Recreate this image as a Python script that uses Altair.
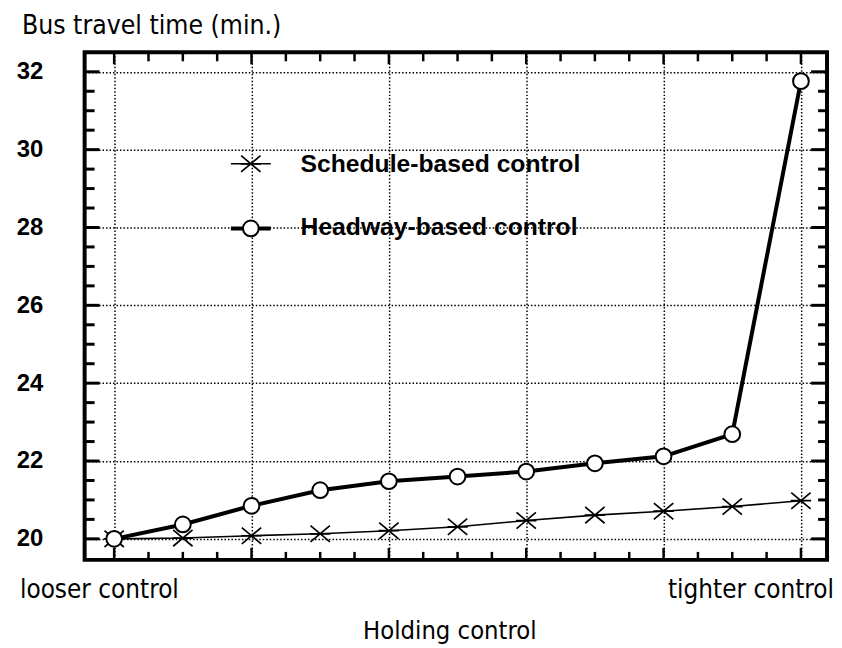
import altair as alt
import pandas as pd

# ---- data ----
control_step = [0, 1, 2, 3, 4, 5, 6, 7, 8, 9, 10]
schedule_based = [20.00, 20.02, 20.08, 20.13, 20.21, 20.31, 20.47, 20.61, 20.71, 20.83, 20.98]
headway_based = [20.00, 20.37, 20.85, 21.25, 21.48, 21.60, 21.73, 21.94, 22.12, 22.69, 31.76]

y_major = [20, 22, 24, 26, 28, 30, 32]
y_minor = [20.5, 21, 21.5, 22.5, 23, 23.5, 24.5, 25, 25.5, 26.5, 27, 27.5,
           28.5, 29, 29.5, 30.5, 31, 31.5]
x_major = [0, 2, 4, 6, 8, 10]
x_minor = [0.5, 1, 1.5, 2.5, 3, 3.5, 4.5, 5, 5.5, 6.5, 7, 7.5, 8.5, 9, 9.5]

series_names = ["Schedule-based control", "Headway-based control"]
y_title = "Bus travel time (min.)"
x_title = "Holding control"
x_left_label = "looser control"
x_right_label = "tighter control"

W, H = 746, 510
NARROW = "Liberation Sans Narrow, Arial Narrow, DejaVu Sans Condensed, sans-serif"
BOLD = "Liberation Sans, Arial, sans-serif"

xs = alt.Scale(domain=[-0.43, 10.38], nice=False, zero=False)
ys = alt.Scale(domain=[19.46, 32.5], nice=False, zero=False)


def X(field):
    return alt.X(f"{field}:Q", scale=xs, title=None,
                 axis=alt.Axis(values=x_major, grid=True, labels=False, ticks=False,
                               domain=False, gridDash=[1.5, 2], gridColor="black",
                               gridWidth=1.5, gridOpacity=1))


def Y(field):
    return alt.Y(f"{field}:Q", scale=ys, title=None,
                 axis=alt.Axis(values=y_major, grid=True, ticks=False, tickSize=0,
                               domain=False, gridDash=[1.5, 2], gridColor="black",
                               gridWidth=1.5, gridOpacity=1, format="d",
                               labelFont=BOLD, labelFontSize=24, labelFontWeight="bold",
                               labelColor="black", labelPadding=42))


df = pd.DataFrame({"step": control_step, "schedule": schedule_based,
                   "headway": headway_based})
base = alt.Chart(df)

star = "M-1,0L1,0M-0.95,-0.8L0.95,0.8M-0.95,0.8L0.95,-0.8"

sched_line = base.mark_line(color="black", strokeWidth=1.6).encode(x=X("step"), y=Y("schedule"))
sched_pts = base.mark_point(shape=star, size=420, color="black", strokeWidth=1.7,
                            filled=False, opacity=1).encode(x=X("step"), y=Y("schedule"))
head_line = base.mark_line(color="black", strokeWidth=4).encode(x=X("step"), y=Y("headway"))
head_pts = base.mark_point(shape="circle", size=250, fill="white", stroke="black",
                           strokeWidth=2, filled=True, opacity=1).encode(
    x=X("step"), y=Y("headway"))

# inward ticks on the frame
dy_maj = pd.DataFrame({"v": y_major})
dy_min = pd.DataFrame({"v": y_minor})
dx_maj = pd.DataFrame({"v": x_major})
dx_min = pd.DataFrame({"v": x_minor})

ticks = [
    alt.Chart(dy_maj).mark_rule(color="black", strokeWidth=3).encode(
        y=Y("v"), x=alt.value(0), x2=alt.value(15)),
    alt.Chart(dy_min).mark_rule(color="black", strokeWidth=3).encode(
        y=Y("v"), x=alt.value(0), x2=alt.value(10)),
    alt.Chart(dy_maj).mark_rule(color="black", strokeWidth=3).encode(
        y=Y("v"), x=alt.value(W - 16), x2=alt.value(W)),
    alt.Chart(dy_min).mark_rule(color="black", strokeWidth=3).encode(
        y=Y("v"), x=alt.value(W - 9), x2=alt.value(W)),
    alt.Chart(dx_maj).mark_rule(color="black", strokeWidth=2.5).encode(
        x=X("v"), y=alt.value(H), y2=alt.value(H - 12)),
    alt.Chart(dx_min).mark_rule(color="black", strokeWidth=2.5).encode(
        x=X("v"), y=alt.value(H), y2=alt.value(H - 8)),
    alt.Chart(dx_maj).mark_rule(color="black", strokeWidth=2.5).encode(
        x=X("v"), y=alt.value(0), y2=alt.value(12)),
    alt.Chart(dx_min).mark_rule(color="black", strokeWidth=2.5).encode(
        x=X("v"), y=alt.value(0), y2=alt.value(9)),
]

# legend inside the plot
leg_s = pd.DataFrame({"label": [series_names[0]]})
leg_h = pd.DataFrame({"label": [series_names[1]]})
legend = [
    alt.Chart(leg_s).mark_rule(color="black", strokeWidth=1.6).encode(
        x=alt.value(147), x2=alt.value(187), y=alt.value(112)),
    alt.Chart(leg_s).mark_point(shape=star, size=420, color="black", strokeWidth=1.7,
                                filled=False, opacity=1).encode(
        x=alt.value(167), y=alt.value(112)),
    alt.Chart(leg_s).mark_text(font=BOLD, fontSize=24.8, fontWeight="bold", align="left",
                               baseline="middle", color="black").encode(
        text="label:N", x=alt.value(217), y=alt.value(113)),
    alt.Chart(leg_h).mark_rule(color="black", strokeWidth=4).encode(
        x=alt.value(147), x2=alt.value(187), y=alt.value(177)),
    alt.Chart(leg_h).mark_point(shape="circle", size=250, fill="white", stroke="black",
                                strokeWidth=2, filled=True, opacity=1).encode(
        x=alt.value(167), y=alt.value(177)),
    alt.Chart(leg_h).mark_text(font=BOLD, fontSize=24.8, fontWeight="bold", align="left",
                               baseline="middle", color="black").encode(
        text="label:N", x=alt.value(217), y=alt.value(177)),
]

# outer texts
txt = pd.DataFrame({"t": [y_title, x_left_label, x_right_label, x_title]})
texts = [
    alt.Chart(txt.iloc[[0]]).mark_text(font=NARROW, fontSize=26.5, align="left",
                                       baseline="alphabetic", color="black").encode(
        text="t:N", x=alt.value(-63), y=alt.value(-18)),
    alt.Chart(txt.iloc[[1]]).mark_text(font=NARROW, fontSize=26, align="left",
                                       baseline="alphabetic", color="black").encode(
        text="t:N", x=alt.value(-65), y=alt.value(548)),
    alt.Chart(txt.iloc[[2]]).mark_text(font=NARROW, fontSize=26, align="right",
                                       baseline="alphabetic", color="black").encode(
        text="t:N", x=alt.value(753), y=alt.value(548)),
    alt.Chart(txt.iloc[[3]]).mark_text(font=NARROW, fontSize=25.5, align="center",
                                       baseline="alphabetic", color="black").encode(
        text="t:N", x=alt.value(367), y=alt.value(590)),
]

chart = alt.layer(
    sched_line, head_line, *ticks, sched_pts, head_pts, *legend, *texts
).properties(
    width=W, height=H,
    background="white",
    autosize=alt.AutoSizeParams(type="none"),
    padding={"left": 77, "top": 43, "right": 7, "bottom": 85},
).configure_view(stroke="black", strokeWidth=4)

chart.save("out.html", embed_options={"renderer": "svg", "actions": False})
